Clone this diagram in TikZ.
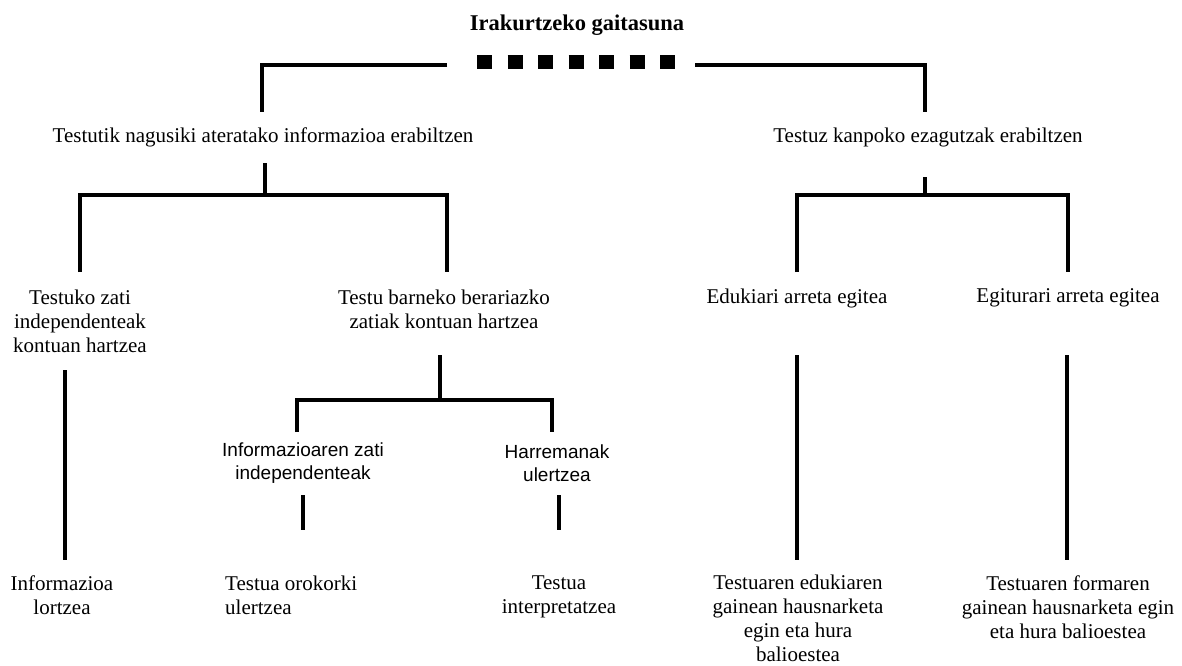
\documentclass[tikz,border=0pt]{standalone}
\usepackage{fontspec}
\setmainfont{Liberation Serif}
\newfontfamily\sansf{Liberation Sans}
\begin{document}
\begin{tikzpicture}[x=1pt,y=-1pt,
  txt/.style={align=center, inner sep=0pt, font=\fontsize{21}{24}\selectfont},
  stxt/.style={align=center, inner sep=0pt, font=\sansf\fontsize{19}{23}\selectfont},
  ttl/.style={inner sep=0pt, font=\bfseries\fontsize{22.5}{26}\selectfont},
  conn/.style={line width=3.2pt, line join=miter},
  bar/.style={line width=14pt, dash pattern=on 15pt off 15.5pt}
]
\useasboundingbox (0,0) rectangle (1182,665);

% title and bar
\node[ttl] (title) at (577,25) {Irakurtzeko gaitasuna};
\coordinate (barL) at (477,62);
\coordinate (barR) at (675,62);
\draw[bar] (barL) -- (barR);

% level 1
\node[txt] (n1) at (263,137) {Testutik nagusiki ateratako informazioa erabiltzen};
\node[txt] (n2) at (928,137) {Testuz kanpoko ezagutzak erabiltzen};

% level 2
\node[txt] (n11) at (80,321) {Testuko zati\\independenteak\\kontuan hartzea};
\node[txt] (n12) at (444,309) {Testu barneko berariazko\\zatiak kontuan hartzea};
\node[txt] (n21) at (797,298) {Edukiari arreta egitea};
\node[txt] (n22) at (1068,298) {Egiturari arreta egitea};

% level 3
\node[stxt] (n121) at (303,463) {Informazioaren zati\\independenteak};
\node[stxt] (n122) at (557,463) {Harremanak\\ulertzea};

% leaves
\node[txt] (l11) at (62,595) {Informazioa\\lortzea};
\node[txt, align=left, anchor=west] (l121) at (225,595) {Testua orokorki\\ulertzea};
\node[txt] (l122) at (559,597) {Testua\\interpretatzea};
\node[txt] (l21) at (798,618.5) {Testuaren edukiaren\\gainean hausnarketa\\egin eta hura\\balioestea};
\node[txt] (l22) at (1068,607) {Testuaren formaren\\gainean hausnarketa egin\\eta hura balioestea};

% junctions
\coordinate (j1) at (265,195);
\coordinate (j2) at (440,400);
\coordinate (j3) at (925,195);

% connectors
\draw[conn] ([xshift=-30pt,yshift=-3pt]barL) -| ([xshift=-1pt,yshift=25pt]n1.center);
\draw[conn] ([xshift=20pt,yshift=-3pt]barR) -| ([xshift=-3pt,yshift=25pt]n2.center);

\draw[conn] ([xshift=2pt,yshift=-26pt]n1.center) -- (j1);
\draw[conn] ([yshift=49pt]n11.center) |- (j1) -| ([xshift=3pt,yshift=37pt]n12.center);

\draw[conn] ([xshift=-4pt,yshift=-46pt]n12.center) -- (j2);
\draw[conn] ([xshift=-6pt,yshift=31pt]n121.center) |- (j2) -| ([xshift=-5pt,yshift=31pt]n122.center);

\draw[conn] ([yshift=-32pt]n121.center) -- ([yshift=65pt]n121.center |- l121.center);
\draw[conn] ([xshift=2pt,yshift=-32pt]n122.center) -- ([yshift=67pt]l122.center);

\draw[conn] ([xshift=-15pt,yshift=-49pt]n11.center) -- ([xshift=3pt,yshift=35pt]l11.center);

\draw[conn] ([xshift=-3pt,yshift=-40pt]n2.center) -- (j3);
\draw[conn] ([yshift=26pt]n21.center) |- (j3) -| ([yshift=26pt]n22.center);

\draw[conn] ([yshift=-57pt]n21.center) -- ([xshift=-1pt,yshift=58.5pt]l21.center);
\draw[conn] ([xshift=-1pt,yshift=-57pt]n22.center) -- ([xshift=-1pt,yshift=47pt]l22.center);
\end{tikzpicture}
\end{document}
